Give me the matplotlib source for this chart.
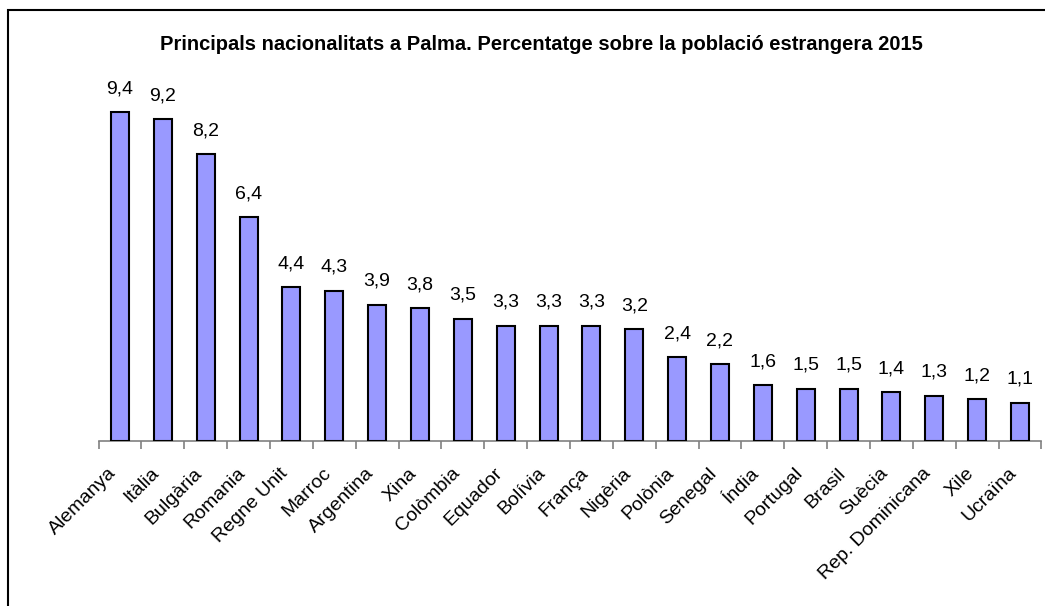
import matplotlib
matplotlib.use("Agg")
import matplotlib.pyplot as plt
from matplotlib.patches import Rectangle

categories = ["Alemanya", "Itàlia", "Bulgària", "Romania", "Regne Unit", "Marroc",
              "Argentina", "Xina", "Colòmbia", "Equador", "Bolívia", "França",
              "Nigèria", "Polònia", "Senegal", "Índia", "Portugal", "Brasil",
              "Suècia", "Rep. Dominicana", "Xile", "Ucraïna"]
values = [9.4, 9.2, 8.2, 6.4, 4.4, 4.3, 3.9, 3.8, 3.5, 3.3, 3.3, 3.3, 3.2,
          2.4, 2.2, 1.6, 1.5, 1.5, 1.4, 1.3, 1.2, 1.1]
title = "Principals nacionalitats a Palma. Percentatge sobre la població estrangera 2015"

plt.rcParams['font.family'] = ['Liberation Sans', 'DejaVu Sans']

W, H = 1045, 606
fig = plt.figure(figsize=(W / 100, H / 100), dpi=100)
fig.patch.set_facecolor('white')

# outer border (cut by the image edges on right/bottom)
fig.patches.append(Rectangle((8 / W, -0.1), 1.2, 1 - 10 / H + 0.1, transform=fig.transFigure,
                             fill=False, edgecolor='black', linewidth=1.5))

ax = fig.add_axes([98.6 / W, (H - 441) / H, (1041.4 - 98.6) / W, (441 - 91) / H])
x = list(range(len(categories)))
ax.bar(x, values, width=0.42, color='#9999FF', edgecolor='black', linewidth=1.5, zorder=3)
ax.set_xlim(-0.5, len(categories) - 0.5)
ax.set_ylim(0, 10)

for xi, v in zip(x, values):
    ax.annotate(f"{v:.1f}".replace('.', ','), (xi, v), xytext=(0, 10.5),
                textcoords='offset points', ha='center', va='bottom', fontsize=14)

for s in ['top', 'right', 'left']:
    ax.spines[s].set_visible(False)
ax.spines['bottom'].set_color('#808080')
ax.spines['bottom'].set_linewidth(1.2)
ax.set_yticks([])

ax.set_xticks([i - 0.5 for i in range(len(categories) + 1)], minor=False)
ax.set_xticklabels([])
ax.tick_params(axis='x', which='major', direction='out', length=6, color='#808080', width=1.2)
ax.set_xticks(x, minor=True)
ax.set_xticklabels(categories, minor=True, rotation=45, ha='right', va='top',
                   rotation_mode='default', fontsize=14)
ax.tick_params(axis='x', which='minor', length=0, pad=17)
for lbl in ax.get_xticklabels(minor=True):
    lbl.set_x(lbl.get_position()[0])

fig.text(541 / W, 1 - 45 / H, title, ha='center', va='center', fontsize=14.5, fontweight='bold')

fig.savefig('out.png', dpi=100, facecolor='white')
